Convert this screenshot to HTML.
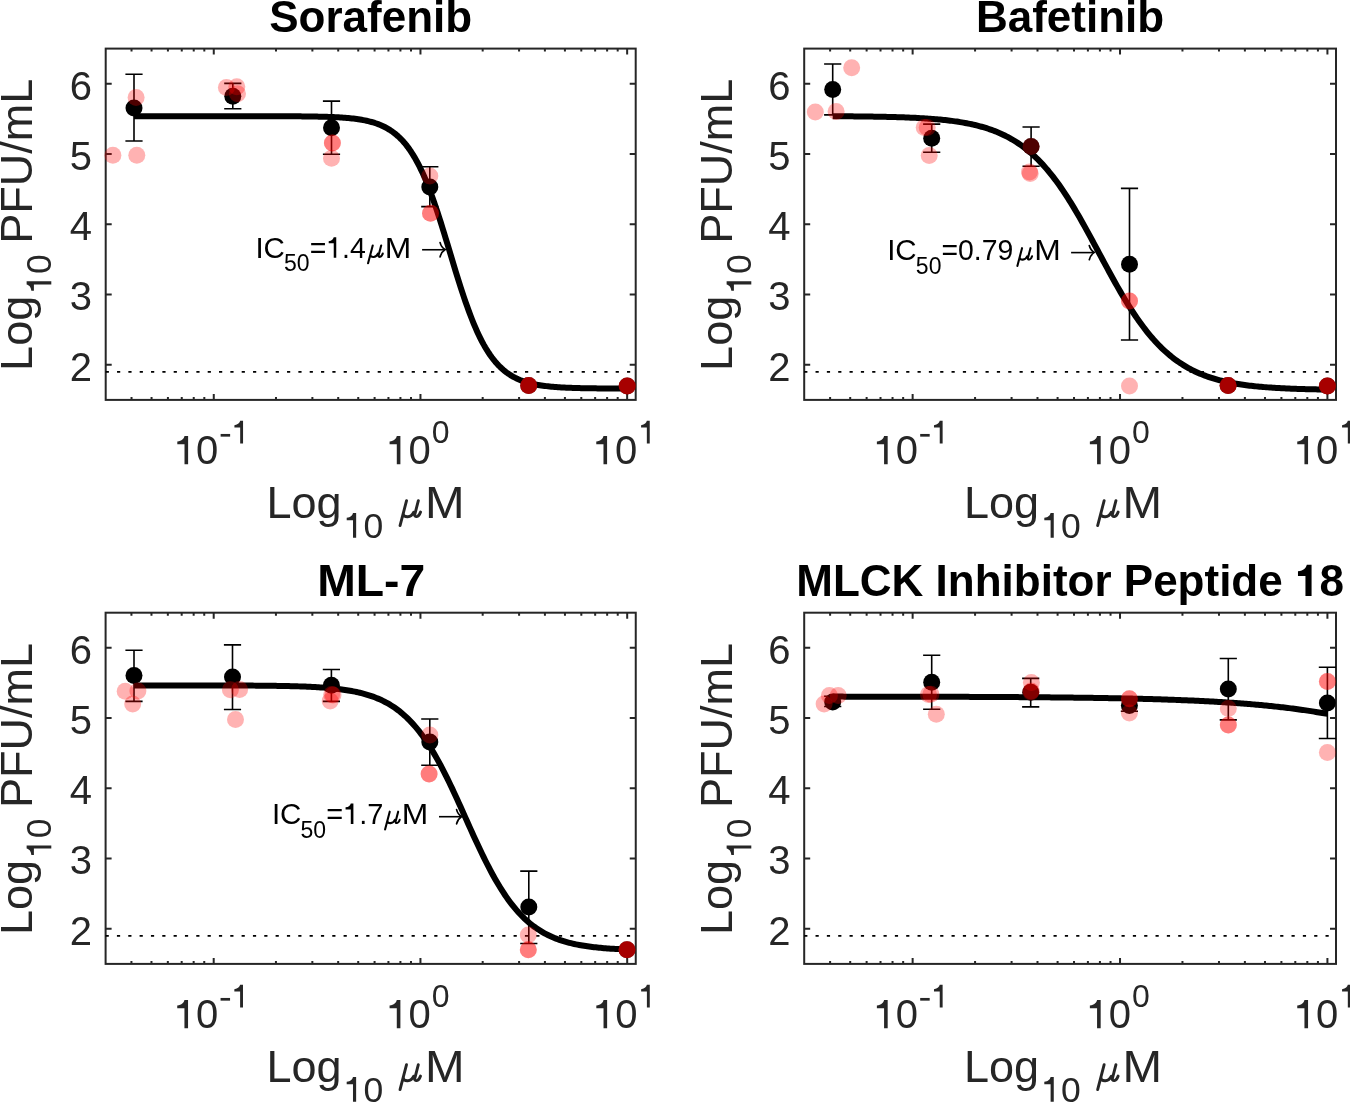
<!DOCTYPE html><html><head><meta charset="utf-8"><style>html,body{margin:0;padding:0;background:#fff;}svg{display:block}</style></head><body>
<svg style="will-change:transform" width="1350" height="1102" viewBox="0 0 1350 1102">
<rect x="0" y="0" width="1350" height="1102" fill="#fff"/>
<rect x="105.7" y="48.6" width="530" height="351.3" fill="none" stroke="#262626" stroke-width="2"/>
<path d="M 105.7 364.77 H 111.7 M 635.7 364.77 H 629.7 M 105.7 294.51 H 111.7 M 635.7 294.51 H 629.7 M 105.7 224.25 H 111.7 M 635.7 224.25 H 629.7 M 105.7 153.99 H 111.7 M 635.7 153.99 H 629.7 M 105.7 83.73 H 111.7 M 635.7 83.73 H 629.7 M 131.523 399.9 V 396.9 M 131.523 48.6 V 51.6 M 151.553 399.9 V 396.9 M 151.553 48.6 V 51.6 M 167.919 399.9 V 396.9 M 167.919 48.6 V 51.6 M 181.756 399.9 V 396.9 M 181.756 48.6 V 51.6 M 193.742 399.9 V 396.9 M 193.742 48.6 V 51.6 M 204.314 399.9 V 396.9 M 204.314 48.6 V 51.6 M 213.772 399.9 V 393.9 M 213.772 48.6 V 54.6 M 275.991 399.9 V 396.9 M 275.991 48.6 V 51.6 M 312.386 399.9 V 396.9 M 312.386 48.6 V 51.6 M 338.21 399.9 V 396.9 M 338.21 48.6 V 51.6 M 358.24 399.9 V 396.9 M 358.24 48.6 V 51.6 M 374.605 399.9 V 396.9 M 374.605 48.6 V 51.6 M 388.442 399.9 V 396.9 M 388.442 48.6 V 51.6 M 400.428 399.9 V 396.9 M 400.428 48.6 V 51.6 M 411.001 399.9 V 396.9 M 411.001 48.6 V 51.6 M 420.458 399.9 V 393.9 M 420.458 48.6 V 54.6 M 482.677 399.9 V 396.9 M 482.677 48.6 V 51.6 M 519.073 399.9 V 396.9 M 519.073 48.6 V 51.6 M 544.896 399.9 V 396.9 M 544.896 48.6 V 51.6 M 564.926 399.9 V 396.9 M 564.926 48.6 V 51.6 M 581.292 399.9 V 396.9 M 581.292 48.6 V 51.6 M 595.129 399.9 V 396.9 M 595.129 48.6 V 51.6 M 607.115 399.9 V 396.9 M 607.115 48.6 V 51.6 M 617.687 399.9 V 396.9 M 617.687 48.6 V 51.6 M 627.145 399.9 V 393.9 M 627.145 48.6 V 54.6" stroke="#262626" stroke-width="2" fill="none"/>
<line x1="105.7" y1="371.829" x2="635.7" y2="371.829" stroke="#000" stroke-width="1.8" stroke-dasharray="3.2 8.133"/>
<path d="M 134 116.181 L 135.649 116.181 L 137.299 116.181 L 138.948 116.181 L 140.598 116.181 L 142.247 116.181 L 143.897 116.181 L 145.546 116.181 L 147.196 116.181 L 148.845 116.181 L 150.495 116.181 L 152.144 116.181 L 153.794 116.181 L 155.443 116.181 L 157.093 116.181 L 158.742 116.181 L 160.392 116.181 L 162.041 116.181 L 163.691 116.181 L 165.34 116.181 L 166.99 116.181 L 168.639 116.181 L 170.289 116.181 L 171.938 116.181 L 173.588 116.181 L 175.237 116.181 L 176.887 116.181 L 178.536 116.181 L 180.186 116.182 L 181.835 116.182 L 183.485 116.182 L 185.134 116.182 L 186.784 116.182 L 188.433 116.182 L 190.083 116.182 L 191.732 116.182 L 193.382 116.182 L 195.031 116.182 L 196.681 116.182 L 198.33 116.182 L 199.98 116.182 L 201.629 116.182 L 203.279 116.183 L 204.928 116.183 L 206.578 116.183 L 208.227 116.183 L 209.877 116.183 L 211.526 116.183 L 213.176 116.184 L 214.825 116.184 L 216.475 116.184 L 218.124 116.184 L 219.774 116.185 L 221.423 116.185 L 223.073 116.185 L 224.722 116.186 L 226.372 116.186 L 228.021 116.186 L 229.671 116.187 L 231.32 116.187 L 232.97 116.188 L 234.619 116.188 L 236.269 116.189 L 237.918 116.19 L 239.568 116.19 L 241.217 116.191 L 242.867 116.192 L 244.516 116.193 L 246.166 116.194 L 247.815 116.195 L 249.465 116.196 L 251.114 116.198 L 252.764 116.199 L 254.413 116.201 L 256.063 116.202 L 257.712 116.204 L 259.362 116.206 L 261.011 116.208 L 262.661 116.21 L 264.31 116.213 L 265.96 116.215 L 267.609 116.218 L 269.259 116.221 L 270.908 116.225 L 272.558 116.228 L 274.207 116.232 L 275.857 116.237 L 277.506 116.241 L 279.156 116.246 L 280.805 116.252 L 282.455 116.258 L 284.104 116.264 L 285.754 116.271 L 287.403 116.279 L 289.053 116.287 L 290.702 116.296 L 292.352 116.305 L 294.001 116.316 L 295.651 116.327 L 297.3 116.339 L 298.95 116.353 L 300.599 116.367 L 302.249 116.382 L 303.898 116.399 L 305.548 116.418 L 307.197 116.437 L 308.847 116.459 L 310.496 116.482 L 312.146 116.507 L 313.795 116.535 L 315.445 116.564 L 317.094 116.597 L 318.744 116.631 L 320.393 116.669 L 322.043 116.71 L 323.692 116.754 L 325.342 116.802 L 326.991 116.854 L 328.641 116.91 L 330.29 116.971 L 331.94 117.037 L 333.589 117.109 L 335.239 117.186 L 336.888 117.27 L 338.538 117.361 L 340.187 117.46 L 341.837 117.566 L 343.486 117.682 L 345.136 117.807 L 346.785 117.942 L 348.435 118.089 L 350.084 118.248 L 351.734 118.42 L 353.383 118.606 L 355.033 118.807 L 356.682 119.025 L 358.332 119.261 L 359.981 119.516 L 361.631 119.792 L 363.28 120.09 L 364.93 120.413 L 366.579 120.762 L 368.229 121.139 L 369.878 121.546 L 371.528 121.986 L 373.177 122.462 L 374.827 122.975 L 376.476 123.529 L 378.126 124.128 L 379.775 124.773 L 381.425 125.469 L 383.074 126.219 L 384.724 127.027 L 386.373 127.897 L 388.023 128.834 L 389.672 129.841 L 391.322 130.924 L 392.971 132.088 L 394.621 133.338 L 396.27 134.679 L 397.92 136.116 L 399.569 137.656 L 401.219 139.304 L 402.868 141.065 L 404.518 142.946 L 406.167 144.953 L 407.817 147.092 L 409.466 149.368 L 411.116 151.787 L 412.765 154.354 L 414.415 157.074 L 416.064 159.951 L 417.714 162.99 L 419.363 166.194 L 421.013 169.566 L 422.662 173.106 L 424.312 176.817 L 425.961 180.696 L 427.611 184.744 L 429.26 188.956 L 430.91 193.33 L 432.559 197.859 L 434.209 202.536 L 435.858 207.353 L 437.508 212.299 L 439.157 217.365 L 440.807 222.536 L 442.456 227.799 L 444.106 233.139 L 445.755 238.54 L 447.405 243.986 L 449.054 249.459 L 450.704 254.941 L 452.353 260.414 L 454.003 265.862 L 455.652 271.267 L 457.302 276.612 L 458.951 281.88 L 460.601 287.058 L 462.25 292.131 L 463.9 297.086 L 465.549 301.911 L 467.199 306.598 L 468.848 311.137 L 470.498 315.521 L 472.147 319.744 L 473.797 323.803 L 475.446 327.694 L 477.096 331.415 L 478.745 334.967 L 480.395 338.349 L 482.044 341.564 L 483.694 344.614 L 485.343 347.503 L 486.993 350.233 L 488.642 352.81 L 490.292 355.238 L 491.941 357.523 L 493.591 359.671 L 495.24 361.686 L 496.89 363.576 L 498.539 365.345 L 500.189 367 L 501.838 368.547 L 503.488 369.991 L 505.137 371.338 L 506.787 372.593 L 508.436 373.763 L 510.086 374.851 L 511.735 375.863 L 513.385 376.805 L 515.034 377.679 L 516.684 378.491 L 518.333 379.245 L 519.983 379.944 L 521.632 380.593 L 523.282 381.194 L 524.931 381.751 L 526.581 382.267 L 528.23 382.745 L 529.88 383.187 L 531.529 383.597 L 533.179 383.976 L 534.828 384.326 L 536.478 384.651 L 538.127 384.951 L 539.777 385.228 L 541.426 385.484 L 543.076 385.721 L 544.725 385.94 L 546.375 386.143 L 548.024 386.33 L 549.674 386.503 L 551.323 386.662 L 552.973 386.81 L 554.622 386.946 L 556.272 387.072 L 557.921 387.188 L 559.571 387.295 L 561.22 387.394 L 562.87 387.485 L 564.519 387.57 L 566.169 387.648 L 567.818 387.72 L 569.468 387.786 L 571.117 387.847 L 572.767 387.904 L 574.416 387.956 L 576.066 388.004 L 577.715 388.049 L 579.365 388.09 L 581.014 388.128 L 582.664 388.163 L 584.313 388.195 L 585.963 388.225 L 587.612 388.252 L 589.262 388.278 L 590.911 388.301 L 592.561 388.323 L 594.21 388.342 L 595.86 388.361 L 597.509 388.378 L 599.159 388.393 L 600.808 388.408 L 602.458 388.421 L 604.107 388.434 L 605.757 388.445 L 607.406 388.455 L 609.056 388.465 L 610.705 388.474 L 612.355 388.482 L 614.004 388.49 L 615.654 388.497 L 617.303 388.503 L 618.953 388.509 L 620.602 388.515 L 622.252 388.52 L 623.901 388.525 L 625.551 388.529 L 627.2 388.533" fill="none" stroke="#000" stroke-width="6" stroke-linejoin="round"/>
<path d="M 134 74.2 L 134 141 M 125.4 74.2 L 142.6 74.2 M 125.4 141 L 142.6 141" stroke="#000" stroke-width="1.6" fill="none"/>
<path d="M 232.8 83.4 L 232.8 108.8 M 224.2 83.4 L 241.4 83.4 M 224.2 108.8 L 241.4 108.8" stroke="#000" stroke-width="1.6" fill="none"/>
<path d="M 331.5 101.1 L 331.5 154.2 M 322.9 101.1 L 340.1 101.1 M 322.9 154.2 L 340.1 154.2" stroke="#000" stroke-width="1.6" fill="none"/>
<path d="M 429.8 166.7 L 429.8 206.6 M 421.2 166.7 L 438.4 166.7 M 421.2 206.6 L 438.4 206.6" stroke="#000" stroke-width="1.6" fill="none"/>
<circle cx="134" cy="107.9" r="8.5" fill="#000"/>
<circle cx="232.8" cy="96.3" r="8.5" fill="#000"/>
<circle cx="331.5" cy="127.7" r="8.5" fill="#000"/>
<circle cx="429.8" cy="186.9" r="8.5" fill="#000"/>
<circle cx="528.7" cy="385.5" r="8.5" fill="#000"/>
<circle cx="627.2" cy="385.9" r="8.5" fill="#000"/>
<circle cx="136.1" cy="97.4" r="8.5" fill="#f00" fill-opacity="0.3"/>
<circle cx="112.9" cy="155.3" r="8.5" fill="#f00" fill-opacity="0.3"/>
<circle cx="136.8" cy="155.3" r="8.5" fill="#f00" fill-opacity="0.3"/>
<circle cx="226.4" cy="87.4" r="8.5" fill="#f00" fill-opacity="0.3"/>
<circle cx="236.8" cy="86.8" r="8.5" fill="#f00" fill-opacity="0.3"/>
<circle cx="237.5" cy="93.8" r="8.5" fill="#f00" fill-opacity="0.3"/>
<circle cx="332.4" cy="142.9" r="8.5" fill="#f00" fill-opacity="0.3"/>
<circle cx="332.4" cy="142.9" r="8.5" fill="#f00" fill-opacity="0.3"/>
<circle cx="331.5" cy="158.3" r="8.5" fill="#f00" fill-opacity="0.3"/>
<circle cx="429.8" cy="176" r="8.5" fill="#f00" fill-opacity="0.3"/>
<circle cx="430.5" cy="213.2" r="8.5" fill="#f00" fill-opacity="0.3"/>
<circle cx="430.5" cy="213.2" r="8.5" fill="#f00" fill-opacity="0.3"/>
<circle cx="528.7" cy="385.5" r="8.5" fill="#f00" fill-opacity="0.3"/>
<circle cx="528.7" cy="385.5" r="8.5" fill="#f00" fill-opacity="0.3"/>
<circle cx="528.7" cy="385.5" r="8.5" fill="#f00" fill-opacity="0.3"/>
<circle cx="627.2" cy="385.9" r="8.5" fill="#f00" fill-opacity="0.3"/>
<circle cx="627.2" cy="385.9" r="8.5" fill="#f00" fill-opacity="0.3"/>
<circle cx="627.2" cy="385.9" r="8.5" fill="#f00" fill-opacity="0.3"/>
<text x="92" y="380.57" font-family="'Liberation Sans', sans-serif" font-size="40" fill="#262626" text-anchor="end">2</text>
<text x="92" y="310.31" font-family="'Liberation Sans', sans-serif" font-size="40" fill="#262626" text-anchor="end">3</text>
<text x="92" y="240.05" font-family="'Liberation Sans', sans-serif" font-size="40" fill="#262626" text-anchor="end">4</text>
<text x="92" y="169.79" font-family="'Liberation Sans', sans-serif" font-size="40" fill="#262626" text-anchor="end">5</text>
<text x="92" y="99.53" font-family="'Liberation Sans', sans-serif" font-size="40" fill="#262626" text-anchor="end">6</text>
<text x="173.872" y="464.2" font-family="'Liberation Sans', sans-serif" font-size="40" fill="#262626"> 0</text><path transform="translate(173.872 464.2) scale(0.04 -0.04)" d="M356 705L266 705C250 640 200 580 86 570L86 497L266 497L266 0L356 0Z" fill="#262626"/>
<rect x="220.624" y="433.95" width="9.5" height="2.7" fill="#262626"/>
<path transform="translate(231.664 443.4) scale(0.032 -0.032)" d="M356 705L266 705C250 640 200 580 86 570L86 497L266 497L266 0L356 0Z" fill="#262626"/>
<text x="386.158" y="464.2" font-family="'Liberation Sans', sans-serif" font-size="40" fill="#262626"> 0</text><path transform="translate(386.158 464.2) scale(0.04 -0.04)" d="M356 705L266 705C250 640 200 580 86 570L86 497L266 497L266 0L356 0Z" fill="#262626"/>
<text x="431.65" y="443.4" font-family="'Liberation Sans', sans-serif" font-size="32" fill="#262626">0</text>
<text x="592.845" y="464.2" font-family="'Liberation Sans', sans-serif" font-size="40" fill="#262626"> 0</text><path transform="translate(592.845 464.2) scale(0.04 -0.04)" d="M356 705L266 705C250 640 200 580 86 570L86 497L266 497L266 0L356 0Z" fill="#262626"/>
<text x="638.337" y="443.4" font-family="'Liberation Sans', sans-serif" font-size="32" fill="#262626"> </text><path transform="translate(638.337 443.4) scale(0.032 -0.032)" d="M356 705L266 705C250 640 200 580 86 570L86 497L266 497L266 0L356 0Z" fill="#262626"/>
<text x="266.4" y="518.2" font-family="'Liberation Sans', sans-serif" font-size="45" fill="#262626">Log</text>
<text x="343.7" y="537.7" font-family="'Liberation Sans', sans-serif" font-size="35.5" fill="#262626"> 0</text><path transform="translate(343.7 537.7) scale(0.035 -0.035)" d="M356 705L266 705C250 640 200 580 86 570L86 497L266 497L266 0L356 0Z" fill="#262626"/>
<path d="M 400.05 525.6 L 406.55 500.7 M 403.45 512.8 C 402.85 516 405.05 516.8 407.75 516.7 C 410.35 516.6 412.55 514.8 413.75 512.2 M 418.35 500.7 L 414.95 513.8 C 414.35 516.2 415.35 516.7 416.75 516.6 C 418.35 516.4 419.75 514.3 420.55 512" fill="none" stroke="#262626" stroke-width="2.9" stroke-linecap="round" stroke-linejoin="round"/>
<text x="425" y="518.2" font-family="'Liberation Sans', sans-serif" font-size="45" fill="#262626" textLength="39.6" lengthAdjust="spacingAndGlyphs">M</text>
<g transform="translate(31.8 370.9) rotate(-90)"><text x="0" y="0" font-family="'Liberation Sans', sans-serif" font-size="45" fill="#262626">Log<tspan font-size="35.5" dx="2" dy="19.5"> 0</tspan><tspan dx="-2" dy="-19.5"> PFU/mL</tspan></text><path transform="translate(77.094 19.5) scale(0.035 -0.035)" d="M356 705L266 705C250 640 200 580 86 570L86 497L266 497L266 0L356 0Z" fill="#262626"/></g>
<text x="370.7" y="31.8" font-family="'Liberation Sans', sans-serif" font-weight="bold" font-size="44" fill="#000" text-anchor="middle">Sorafenib</text>
<rect x="804.2" y="48.6" width="531.8" height="351.3" fill="none" stroke="#262626" stroke-width="2"/>
<path d="M 804.2 364.77 H 810.2 M 1336 364.77 H 1330 M 804.2 294.51 H 810.2 M 1336 294.51 H 1330 M 804.2 224.25 H 810.2 M 1336 224.25 H 1330 M 804.2 153.99 H 810.2 M 1336 153.99 H 1330 M 804.2 83.73 H 810.2 M 1336 83.73 H 1330 M 830.111 399.9 V 396.9 M 830.111 48.6 V 51.6 M 850.209 399.9 V 396.9 M 850.209 48.6 V 51.6 M 866.63 399.9 V 396.9 M 866.63 48.6 V 51.6 M 880.514 399.9 V 396.9 M 880.514 48.6 V 51.6 M 892.541 399.9 V 396.9 M 892.541 48.6 V 51.6 M 903.149 399.9 V 396.9 M 903.149 48.6 V 51.6 M 912.639 399.9 V 393.9 M 912.639 48.6 V 54.6 M 975.069 399.9 V 396.9 M 975.069 48.6 V 51.6 M 1011.588 399.9 V 396.9 M 1011.588 48.6 V 51.6 M 1037.499 399.9 V 396.9 M 1037.499 48.6 V 51.6 M 1057.597 399.9 V 396.9 M 1057.597 48.6 V 51.6 M 1074.018 399.9 V 396.9 M 1074.018 48.6 V 51.6 M 1087.902 399.9 V 396.9 M 1087.902 48.6 V 51.6 M 1099.929 399.9 V 396.9 M 1099.929 48.6 V 51.6 M 1110.538 399.9 V 396.9 M 1110.538 48.6 V 51.6 M 1120.027 399.9 V 393.9 M 1120.027 48.6 V 54.6 M 1182.457 399.9 V 396.9 M 1182.457 48.6 V 51.6 M 1218.977 399.9 V 396.9 M 1218.977 48.6 V 51.6 M 1244.888 399.9 V 396.9 M 1244.888 48.6 V 51.6 M 1264.986 399.9 V 396.9 M 1264.986 48.6 V 51.6 M 1281.407 399.9 V 396.9 M 1281.407 48.6 V 51.6 M 1295.291 399.9 V 396.9 M 1295.291 48.6 V 51.6 M 1307.318 399.9 V 396.9 M 1307.318 48.6 V 51.6 M 1317.926 399.9 V 396.9 M 1317.926 48.6 V 51.6 M 1327.416 399.9 V 393.9 M 1327.416 48.6 V 54.6" stroke="#262626" stroke-width="2" fill="none"/>
<line x1="804.2" y1="371.829" x2="1336" y2="371.829" stroke="#000" stroke-width="1.8" stroke-dasharray="3.2 8.133"/>
<path d="M 832.7 116.233 L 834.355 116.242 L 836.009 116.251 L 837.664 116.261 L 839.318 116.271 L 840.973 116.282 L 842.627 116.293 L 844.282 116.304 L 845.936 116.316 L 847.591 116.329 L 849.245 116.342 L 850.9 116.356 L 852.554 116.371 L 854.209 116.386 L 855.863 116.402 L 857.518 116.418 L 859.172 116.436 L 860.827 116.454 L 862.481 116.473 L 864.136 116.493 L 865.79 116.514 L 867.445 116.536 L 869.099 116.558 L 870.754 116.582 L 872.408 116.607 L 874.063 116.633 L 875.717 116.66 L 877.372 116.689 L 879.026 116.719 L 880.681 116.75 L 882.335 116.782 L 883.99 116.817 L 885.644 116.852 L 887.299 116.89 L 888.954 116.929 L 890.608 116.969 L 892.263 117.012 L 893.917 117.057 L 895.572 117.103 L 897.226 117.152 L 898.881 117.203 L 900.535 117.257 L 902.19 117.312 L 903.844 117.371 L 905.499 117.432 L 907.153 117.496 L 908.808 117.563 L 910.462 117.632 L 912.117 117.705 L 913.771 117.782 L 915.426 117.861 L 917.08 117.945 L 918.735 118.032 L 920.389 118.123 L 922.044 118.218 L 923.698 118.318 L 925.353 118.422 L 927.007 118.531 L 928.662 118.645 L 930.316 118.764 L 931.971 118.888 L 933.625 119.018 L 935.28 119.154 L 936.934 119.296 L 938.589 119.444 L 940.243 119.599 L 941.898 119.761 L 943.553 119.93 L 945.207 120.107 L 946.862 120.292 L 948.516 120.485 L 950.171 120.687 L 951.825 120.897 L 953.48 121.117 L 955.134 121.347 L 956.789 121.587 L 958.443 121.837 L 960.098 122.099 L 961.752 122.372 L 963.407 122.657 L 965.061 122.954 L 966.716 123.265 L 968.37 123.589 L 970.025 123.928 L 971.679 124.281 L 973.334 124.649 L 974.988 125.033 L 976.643 125.434 L 978.297 125.852 L 979.952 126.287 L 981.606 126.742 L 983.261 127.215 L 984.915 127.709 L 986.57 128.224 L 988.224 128.76 L 989.879 129.318 L 991.533 129.9 L 993.188 130.506 L 994.842 131.136 L 996.497 131.793 L 998.152 132.476 L 999.806 133.187 L 1001.461 133.927 L 1003.115 134.696 L 1004.77 135.496 L 1006.424 136.327 L 1008.079 137.191 L 1009.733 138.088 L 1011.388 139.02 L 1013.042 139.988 L 1014.697 140.993 L 1016.351 142.035 L 1018.006 143.116 L 1019.66 144.237 L 1021.315 145.398 L 1022.969 146.602 L 1024.624 147.849 L 1026.278 149.139 L 1027.933 150.475 L 1029.587 151.856 L 1031.242 153.284 L 1032.896 154.76 L 1034.551 156.284 L 1036.205 157.858 L 1037.86 159.482 L 1039.514 161.156 L 1041.169 162.882 L 1042.823 164.661 L 1044.478 166.491 L 1046.132 168.375 L 1047.787 170.311 L 1049.441 172.302 L 1051.096 174.346 L 1052.751 176.443 L 1054.405 178.594 L 1056.06 180.799 L 1057.714 183.056 L 1059.369 185.367 L 1061.023 187.729 L 1062.678 190.142 L 1064.332 192.607 L 1065.987 195.12 L 1067.641 197.682 L 1069.296 200.292 L 1070.95 202.947 L 1072.605 205.646 L 1074.259 208.388 L 1075.914 211.17 L 1077.568 213.991 L 1079.223 216.848 L 1080.877 219.74 L 1082.532 222.663 L 1084.186 225.616 L 1085.841 228.596 L 1087.495 231.6 L 1089.15 234.625 L 1090.804 237.669 L 1092.459 240.728 L 1094.113 243.8 L 1095.768 246.881 L 1097.422 249.968 L 1099.077 253.058 L 1100.731 256.149 L 1102.386 259.236 L 1104.04 262.317 L 1105.695 265.389 L 1107.349 268.448 L 1109.004 271.492 L 1110.659 274.517 L 1112.313 277.521 L 1113.968 280.501 L 1115.622 283.454 L 1117.277 286.378 L 1118.931 289.27 L 1120.586 292.128 L 1122.24 294.949 L 1123.895 297.732 L 1125.549 300.474 L 1127.204 303.173 L 1128.858 305.829 L 1130.513 308.438 L 1132.167 311.001 L 1133.822 313.515 L 1135.476 315.979 L 1137.131 318.394 L 1138.785 320.756 L 1140.44 323.067 L 1142.094 325.325 L 1143.749 327.53 L 1145.403 329.681 L 1147.058 331.779 L 1148.712 333.824 L 1150.367 335.815 L 1152.021 337.752 L 1153.676 339.636 L 1155.33 341.467 L 1156.985 343.245 L 1158.639 344.972 L 1160.294 346.647 L 1161.948 348.271 L 1163.603 349.845 L 1165.258 351.37 L 1166.912 352.846 L 1168.567 354.275 L 1170.221 355.656 L 1171.876 356.992 L 1173.53 358.283 L 1175.185 359.53 L 1176.839 360.734 L 1178.494 361.896 L 1180.148 363.017 L 1181.803 364.099 L 1183.457 365.141 L 1185.112 366.146 L 1186.766 367.114 L 1188.421 368.047 L 1190.075 368.944 L 1191.73 369.808 L 1193.384 370.64 L 1195.039 371.44 L 1196.693 372.209 L 1198.348 372.949 L 1200.002 373.661 L 1201.657 374.344 L 1203.311 375.001 L 1204.966 375.632 L 1206.62 376.238 L 1208.275 376.82 L 1209.929 377.378 L 1211.584 377.915 L 1213.238 378.429 L 1214.893 378.923 L 1216.547 379.397 L 1218.202 379.851 L 1219.857 380.287 L 1221.511 380.705 L 1223.166 381.106 L 1224.82 381.491 L 1226.475 381.859 L 1228.129 382.212 L 1229.784 382.551 L 1231.438 382.875 L 1233.093 383.186 L 1234.747 383.483 L 1236.402 383.769 L 1238.056 384.042 L 1239.711 384.303 L 1241.365 384.554 L 1243.02 384.794 L 1244.674 385.024 L 1246.329 385.244 L 1247.983 385.454 L 1249.638 385.656 L 1251.292 385.849 L 1252.947 386.034 L 1254.601 386.211 L 1256.256 386.38 L 1257.91 386.542 L 1259.565 386.697 L 1261.219 386.846 L 1262.874 386.987 L 1264.528 387.123 L 1266.183 387.253 L 1267.837 387.378 L 1269.492 387.497 L 1271.146 387.611 L 1272.801 387.72 L 1274.456 387.824 L 1276.11 387.923 L 1277.765 388.019 L 1279.419 388.11 L 1281.074 388.197 L 1282.728 388.281 L 1284.383 388.36 L 1286.037 388.437 L 1287.692 388.51 L 1289.346 388.58 L 1291.001 388.646 L 1292.655 388.71 L 1294.31 388.771 L 1295.964 388.83 L 1297.619 388.886 L 1299.273 388.939 L 1300.928 388.99 L 1302.582 389.039 L 1304.237 389.086 L 1305.891 389.13 L 1307.546 389.173 L 1309.2 389.214 L 1310.855 389.253 L 1312.509 389.29 L 1314.164 389.326 L 1315.818 389.36 L 1317.473 389.393 L 1319.127 389.424 L 1320.782 389.454 L 1322.436 389.482 L 1324.091 389.509 L 1325.745 389.535 L 1327.4 389.56" fill="none" stroke="#000" stroke-width="6" stroke-linejoin="round"/>
<path d="M 832.7 64 L 832.7 114.9 M 824.1 64 L 841.3 64 M 824.1 114.9 L 841.3 114.9" stroke="#000" stroke-width="1.6" fill="none"/>
<path d="M 931.7 124.1 L 931.7 152.3 M 923.1 124.1 L 940.3 124.1 M 923.1 152.3 L 940.3 152.3" stroke="#000" stroke-width="1.6" fill="none"/>
<path d="M 1031.1 127 L 1031.1 166.3 M 1022.5 127 L 1039.7 127 M 1022.5 166.3 L 1039.7 166.3" stroke="#000" stroke-width="1.6" fill="none"/>
<path d="M 1129.5 188.4 L 1129.5 340 M 1120.9 188.4 L 1138.1 188.4 M 1120.9 340 L 1138.1 340" stroke="#000" stroke-width="1.6" fill="none"/>
<circle cx="832.7" cy="89.5" r="8.5" fill="#000"/>
<circle cx="931.7" cy="138.2" r="8.5" fill="#000"/>
<circle cx="1031.1" cy="146.6" r="8.5" fill="#000"/>
<circle cx="1129.5" cy="264.2" r="8.5" fill="#000"/>
<circle cx="1228.1" cy="385.5" r="8.5" fill="#000"/>
<circle cx="1327.4" cy="386.1" r="8.5" fill="#000"/>
<circle cx="851.7" cy="67.7" r="8.5" fill="#f00" fill-opacity="0.3"/>
<circle cx="815.3" cy="112" r="8.5" fill="#f00" fill-opacity="0.3"/>
<circle cx="836.1" cy="111.5" r="8.5" fill="#f00" fill-opacity="0.3"/>
<circle cx="924.2" cy="127.4" r="8.5" fill="#f00" fill-opacity="0.3"/>
<circle cx="927.2" cy="127.5" r="8.5" fill="#f00" fill-opacity="0.3"/>
<circle cx="929.2" cy="155.4" r="8.5" fill="#f00" fill-opacity="0.3"/>
<circle cx="1031.1" cy="146.6" r="8.5" fill="#f00" fill-opacity="0.3"/>
<circle cx="1029.5" cy="172" r="8.5" fill="#f00" fill-opacity="0.3"/>
<circle cx="1030.2" cy="173.5" r="8.5" fill="#f00" fill-opacity="0.3"/>
<circle cx="1129.5" cy="301.1" r="8.5" fill="#f00" fill-opacity="0.3"/>
<circle cx="1129.5" cy="301.1" r="8.5" fill="#f00" fill-opacity="0.3"/>
<circle cx="1129.5" cy="385.9" r="8.5" fill="#f00" fill-opacity="0.3"/>
<circle cx="1228.1" cy="385.5" r="8.5" fill="#f00" fill-opacity="0.3"/>
<circle cx="1228.1" cy="385.5" r="8.5" fill="#f00" fill-opacity="0.3"/>
<circle cx="1228.1" cy="385.5" r="8.5" fill="#f00" fill-opacity="0.3"/>
<circle cx="1327.4" cy="386.1" r="8.5" fill="#f00" fill-opacity="0.3"/>
<circle cx="1327.4" cy="386.1" r="8.5" fill="#f00" fill-opacity="0.3"/>
<circle cx="1327.4" cy="386.1" r="8.5" fill="#f00" fill-opacity="0.3"/>
<text x="790.5" y="380.57" font-family="'Liberation Sans', sans-serif" font-size="40" fill="#262626" text-anchor="end">2</text>
<text x="790.5" y="310.31" font-family="'Liberation Sans', sans-serif" font-size="40" fill="#262626" text-anchor="end">3</text>
<text x="790.5" y="240.05" font-family="'Liberation Sans', sans-serif" font-size="40" fill="#262626" text-anchor="end">4</text>
<text x="790.5" y="169.79" font-family="'Liberation Sans', sans-serif" font-size="40" fill="#262626" text-anchor="end">5</text>
<text x="790.5" y="99.53" font-family="'Liberation Sans', sans-serif" font-size="40" fill="#262626" text-anchor="end">6</text>
<text x="873.439" y="464.2" font-family="'Liberation Sans', sans-serif" font-size="40" fill="#262626"> 0</text><path transform="translate(873.439 464.2) scale(0.04 -0.04)" d="M356 705L266 705C250 640 200 580 86 570L86 497L266 497L266 0L356 0Z" fill="#262626"/>
<rect x="920.191" y="433.95" width="9.5" height="2.7" fill="#262626"/>
<path transform="translate(931.231 443.4) scale(0.032 -0.032)" d="M356 705L266 705C250 640 200 580 86 570L86 497L266 497L266 0L356 0Z" fill="#262626"/>
<text x="1086.427" y="464.2" font-family="'Liberation Sans', sans-serif" font-size="40" fill="#262626"> 0</text><path transform="translate(1086.427 464.2) scale(0.04 -0.04)" d="M356 705L266 705C250 640 200 580 86 570L86 497L266 497L266 0L356 0Z" fill="#262626"/>
<text x="1131.919" y="443.4" font-family="'Liberation Sans', sans-serif" font-size="32" fill="#262626">0</text>
<text x="1293.816" y="464.2" font-family="'Liberation Sans', sans-serif" font-size="40" fill="#262626"> 0</text><path transform="translate(1293.816 464.2) scale(0.04 -0.04)" d="M356 705L266 705C250 640 200 580 86 570L86 497L266 497L266 0L356 0Z" fill="#262626"/>
<text x="1339.308" y="443.4" font-family="'Liberation Sans', sans-serif" font-size="32" fill="#262626"> </text><path transform="translate(1339.308 443.4) scale(0.032 -0.032)" d="M356 705L266 705C250 640 200 580 86 570L86 497L266 497L266 0L356 0Z" fill="#262626"/>
<text x="964" y="518.2" font-family="'Liberation Sans', sans-serif" font-size="45" fill="#262626">Log</text>
<text x="1041.3" y="537.7" font-family="'Liberation Sans', sans-serif" font-size="35.5" fill="#262626"> 0</text><path transform="translate(1041.3 537.7) scale(0.035 -0.035)" d="M356 705L266 705C250 640 200 580 86 570L86 497L266 497L266 0L356 0Z" fill="#262626"/>
<path d="M 1097.65 525.6 L 1104.15 500.7 M 1101.05 512.8 C 1100.45 516 1102.65 516.8 1105.35 516.7 C 1107.95 516.6 1110.15 514.8 1111.35 512.2 M 1115.95 500.7 L 1112.55 513.8 C 1111.95 516.2 1112.95 516.7 1114.35 516.6 C 1115.95 516.4 1117.35 514.3 1118.15 512" fill="none" stroke="#262626" stroke-width="2.9" stroke-linecap="round" stroke-linejoin="round"/>
<text x="1122.6" y="518.2" font-family="'Liberation Sans', sans-serif" font-size="45" fill="#262626" textLength="39.6" lengthAdjust="spacingAndGlyphs">M</text>
<g transform="translate(731.8 370.9) rotate(-90)"><text x="0" y="0" font-family="'Liberation Sans', sans-serif" font-size="45" fill="#262626">Log<tspan font-size="35.5" dx="2" dy="19.5"> 0</tspan><tspan dx="-2" dy="-19.5"> PFU/mL</tspan></text><path transform="translate(77.094 19.5) scale(0.035 -0.035)" d="M356 705L266 705C250 640 200 580 86 570L86 497L266 497L266 0L356 0Z" fill="#262626"/></g>
<text x="1070.1" y="31.8" font-family="'Liberation Sans', sans-serif" font-weight="bold" font-size="44" fill="#000" text-anchor="middle">Bafetinib</text>
<rect x="105.6" y="612.7" width="530.15" height="351.2" fill="none" stroke="#262626" stroke-width="2"/>
<path d="M 105.6 928.78 H 111.6 M 635.75 928.78 H 629.75 M 105.6 858.54 H 111.6 M 635.75 858.54 H 629.75 M 105.6 788.3 H 111.6 M 635.75 788.3 H 629.75 M 105.6 718.06 H 111.6 M 635.75 718.06 H 629.75 M 105.6 647.82 H 111.6 M 635.75 647.82 H 629.75 M 131.43 963.9 V 960.9 M 131.43 612.7 V 615.7 M 151.466 963.9 V 960.9 M 151.466 612.7 V 615.7 M 167.836 963.9 V 960.9 M 167.836 612.7 V 615.7 M 181.677 963.9 V 960.9 M 181.677 612.7 V 615.7 M 193.667 963.9 V 960.9 M 193.667 612.7 V 615.7 M 204.242 963.9 V 960.9 M 204.242 612.7 V 615.7 M 213.703 963.9 V 957.9 M 213.703 612.7 V 618.7 M 275.939 963.9 V 960.9 M 275.939 612.7 V 615.7 M 312.345 963.9 V 960.9 M 312.345 612.7 V 615.7 M 338.175 963.9 V 960.9 M 338.175 612.7 V 615.7 M 358.211 963.9 V 960.9 M 358.211 612.7 V 615.7 M 374.581 963.9 V 960.9 M 374.581 612.7 V 615.7 M 388.422 963.9 V 960.9 M 388.422 612.7 V 615.7 M 400.412 963.9 V 960.9 M 400.412 612.7 V 615.7 M 410.987 963.9 V 960.9 M 410.987 612.7 V 615.7 M 420.447 963.9 V 957.9 M 420.447 612.7 V 618.7 M 482.684 963.9 V 960.9 M 482.684 612.7 V 615.7 M 519.09 963.9 V 960.9 M 519.09 612.7 V 615.7 M 544.92 963.9 V 960.9 M 544.92 612.7 V 615.7 M 564.956 963.9 V 960.9 M 564.956 612.7 V 615.7 M 581.326 963.9 V 960.9 M 581.326 612.7 V 615.7 M 595.167 963.9 V 960.9 M 595.167 612.7 V 615.7 M 607.157 963.9 V 960.9 M 607.157 612.7 V 615.7 M 617.732 963.9 V 960.9 M 617.732 612.7 V 615.7 M 627.192 963.9 V 957.9 M 627.192 612.7 V 618.7" stroke="#262626" stroke-width="2" fill="none"/>
<line x1="105.6" y1="935.837" x2="635.75" y2="935.837" stroke="#000" stroke-width="1.8" stroke-dasharray="3.2 8.133"/>
<path d="M 134 685.412 L 135.649 685.412 L 137.298 685.412 L 138.946 685.413 L 140.595 685.413 L 142.244 685.413 L 143.893 685.413 L 145.542 685.414 L 147.191 685.414 L 148.839 685.414 L 150.488 685.415 L 152.137 685.415 L 153.786 685.416 L 155.435 685.416 L 157.084 685.416 L 158.732 685.417 L 160.381 685.417 L 162.03 685.418 L 163.679 685.418 L 165.328 685.419 L 166.977 685.42 L 168.625 685.42 L 170.274 685.421 L 171.923 685.422 L 173.572 685.423 L 175.221 685.423 L 176.87 685.424 L 178.518 685.425 L 180.167 685.426 L 181.816 685.427 L 183.465 685.428 L 185.114 685.429 L 186.763 685.43 L 188.411 685.432 L 190.06 685.433 L 191.709 685.435 L 193.358 685.436 L 195.007 685.438 L 196.656 685.439 L 198.304 685.441 L 199.953 685.443 L 201.602 685.445 L 203.251 685.447 L 204.9 685.449 L 206.548 685.452 L 208.197 685.454 L 209.846 685.457 L 211.495 685.459 L 213.144 685.462 L 214.793 685.465 L 216.441 685.469 L 218.09 685.472 L 219.739 685.476 L 221.388 685.48 L 223.037 685.484 L 224.686 685.488 L 226.334 685.493 L 227.983 685.497 L 229.632 685.502 L 231.281 685.508 L 232.93 685.513 L 234.579 685.519 L 236.227 685.526 L 237.876 685.533 L 239.525 685.54 L 241.174 685.547 L 242.823 685.555 L 244.472 685.563 L 246.12 685.572 L 247.769 685.582 L 249.418 685.591 L 251.067 685.602 L 252.716 685.613 L 254.365 685.625 L 256.013 685.637 L 257.662 685.65 L 259.311 685.664 L 260.96 685.678 L 262.609 685.694 L 264.258 685.71 L 265.906 685.727 L 267.555 685.745 L 269.204 685.765 L 270.853 685.785 L 272.502 685.806 L 274.151 685.829 L 275.799 685.853 L 277.448 685.878 L 279.097 685.905 L 280.746 685.934 L 282.395 685.963 L 284.043 685.995 L 285.692 686.028 L 287.341 686.064 L 288.99 686.101 L 290.639 686.141 L 292.288 686.182 L 293.936 686.226 L 295.585 686.273 L 297.234 686.322 L 298.883 686.374 L 300.532 686.429 L 302.181 686.487 L 303.829 686.548 L 305.478 686.613 L 307.127 686.681 L 308.776 686.754 L 310.425 686.83 L 312.074 686.911 L 313.722 686.996 L 315.371 687.086 L 317.02 687.181 L 318.669 687.281 L 320.318 687.388 L 321.967 687.5 L 323.615 687.618 L 325.264 687.743 L 326.913 687.875 L 328.562 688.014 L 330.211 688.162 L 331.86 688.317 L 333.508 688.481 L 335.157 688.654 L 336.806 688.837 L 338.455 689.03 L 340.104 689.234 L 341.753 689.449 L 343.401 689.676 L 345.05 689.915 L 346.699 690.168 L 348.348 690.434 L 349.997 690.715 L 351.645 691.012 L 353.294 691.324 L 354.943 691.654 L 356.592 692.002 L 358.241 692.368 L 359.89 692.754 L 361.538 693.161 L 363.187 693.59 L 364.836 694.042 L 366.485 694.517 L 368.134 695.019 L 369.783 695.546 L 371.431 696.101 L 373.08 696.686 L 374.729 697.3 L 376.378 697.947 L 378.027 698.627 L 379.676 699.342 L 381.324 700.093 L 382.973 700.882 L 384.622 701.711 L 386.271 702.581 L 387.92 703.494 L 389.569 704.452 L 391.217 705.457 L 392.866 706.51 L 394.515 707.613 L 396.164 708.769 L 397.813 709.978 L 399.462 711.244 L 401.11 712.567 L 402.759 713.951 L 404.408 715.395 L 406.057 716.904 L 407.706 718.477 L 409.355 720.117 L 411.003 721.826 L 412.652 723.605 L 414.301 725.456 L 415.95 727.379 L 417.599 729.378 L 419.247 731.451 L 420.896 733.602 L 422.545 735.829 L 424.194 738.134 L 425.843 740.518 L 427.492 742.981 L 429.14 745.522 L 430.789 748.141 L 432.438 750.838 L 434.087 753.612 L 435.736 756.461 L 437.385 759.385 L 439.033 762.382 L 440.682 765.449 L 442.331 768.584 L 443.98 771.785 L 445.629 775.049 L 447.278 778.371 L 448.926 781.75 L 450.575 785.18 L 452.224 788.657 L 453.873 792.177 L 455.522 795.736 L 457.171 799.328 L 458.819 802.948 L 460.468 806.591 L 462.117 810.252 L 463.766 813.924 L 465.415 817.603 L 467.064 821.282 L 468.712 824.957 L 470.361 828.621 L 472.01 832.268 L 473.659 835.894 L 475.308 839.493 L 476.957 843.06 L 478.605 846.589 L 480.254 850.077 L 481.903 853.518 L 483.552 856.908 L 485.201 860.244 L 486.849 863.521 L 488.498 866.737 L 490.147 869.887 L 491.796 872.97 L 493.445 875.983 L 495.094 878.924 L 496.742 881.791 L 498.391 884.582 L 500.04 887.296 L 501.689 889.933 L 503.338 892.492 L 504.987 894.973 L 506.635 897.374 L 508.284 899.698 L 509.933 901.943 L 511.582 904.111 L 513.231 906.202 L 514.88 908.217 L 516.528 910.158 L 518.177 912.025 L 519.826 913.82 L 521.475 915.545 L 523.124 917.201 L 524.773 918.789 L 526.421 920.312 L 528.07 921.771 L 529.719 923.168 L 531.368 924.505 L 533.017 925.784 L 534.666 927.006 L 536.314 928.174 L 537.963 929.289 L 539.612 930.354 L 541.261 931.369 L 542.91 932.338 L 544.559 933.261 L 546.207 934.141 L 547.856 934.979 L 549.505 935.777 L 551.154 936.536 L 552.803 937.259 L 554.452 937.947 L 556.1 938.601 L 557.749 939.223 L 559.398 939.814 L 561.047 940.376 L 562.696 940.91 L 564.344 941.417 L 565.993 941.898 L 567.642 942.355 L 569.291 942.789 L 570.94 943.201 L 572.589 943.592 L 574.237 943.963 L 575.886 944.314 L 577.535 944.648 L 579.184 944.965 L 580.833 945.265 L 582.482 945.549 L 584.13 945.819 L 585.779 946.075 L 587.428 946.317 L 589.077 946.547 L 590.726 946.764 L 592.375 946.971 L 594.023 947.166 L 595.672 947.351 L 597.321 947.526 L 598.97 947.693 L 600.619 947.85 L 602.268 947.999 L 603.916 948.14 L 605.565 948.274 L 607.214 948.4 L 608.863 948.52 L 610.512 948.634 L 612.161 948.741 L 613.809 948.843 L 615.458 948.939 L 617.107 949.03 L 618.756 949.117 L 620.405 949.198 L 622.054 949.276 L 623.702 949.349 L 625.351 949.418 L 627 949.484" fill="none" stroke="#000" stroke-width="6" stroke-linejoin="round"/>
<path d="M 134 650.2 L 134 701.4 M 125.4 650.2 L 142.6 650.2 M 125.4 701.4 L 142.6 701.4" stroke="#000" stroke-width="1.6" fill="none"/>
<path d="M 232.5 644.9 L 232.5 709.5 M 223.9 644.9 L 241.1 644.9 M 223.9 709.5 L 241.1 709.5" stroke="#000" stroke-width="1.6" fill="none"/>
<path d="M 331.4 669.5 L 331.4 701.4 M 322.8 669.5 L 340 669.5 M 322.8 701.4 L 340 701.4" stroke="#000" stroke-width="1.6" fill="none"/>
<path d="M 429.8 719 L 429.8 765.3 M 421.2 719 L 438.4 719 M 421.2 765.3 L 438.4 765.3" stroke="#000" stroke-width="1.6" fill="none"/>
<path d="M 528.8 871.1 L 528.8 943.5 M 520.2 871.1 L 537.4 871.1 M 520.2 943.5 L 537.4 943.5" stroke="#000" stroke-width="1.6" fill="none"/>
<circle cx="134" cy="675.6" r="8.5" fill="#000"/>
<circle cx="232.5" cy="676.9" r="8.5" fill="#000"/>
<circle cx="331.4" cy="685.2" r="8.5" fill="#000"/>
<circle cx="429.8" cy="742.1" r="8.5" fill="#000"/>
<circle cx="528.8" cy="906.9" r="8.5" fill="#000"/>
<circle cx="627" cy="949.7" r="8.5" fill="#000"/>
<circle cx="125.2" cy="691.2" r="8.5" fill="#f00" fill-opacity="0.3"/>
<circle cx="137.9" cy="691.1" r="8.5" fill="#f00" fill-opacity="0.3"/>
<circle cx="132.7" cy="704" r="8.5" fill="#f00" fill-opacity="0.3"/>
<circle cx="230.4" cy="689.7" r="8.5" fill="#f00" fill-opacity="0.3"/>
<circle cx="239.6" cy="689.4" r="8.5" fill="#f00" fill-opacity="0.3"/>
<circle cx="235.5" cy="719.4" r="8.5" fill="#f00" fill-opacity="0.3"/>
<circle cx="331.7" cy="694.4" r="8.5" fill="#f00" fill-opacity="0.3"/>
<circle cx="333" cy="695" r="8.5" fill="#f00" fill-opacity="0.3"/>
<circle cx="330.2" cy="700.9" r="8.5" fill="#f00" fill-opacity="0.3"/>
<circle cx="429.8" cy="734.9" r="8.5" fill="#f00" fill-opacity="0.3"/>
<circle cx="429.1" cy="774.1" r="8.5" fill="#f00" fill-opacity="0.3"/>
<circle cx="429.1" cy="774.1" r="8.5" fill="#f00" fill-opacity="0.3"/>
<circle cx="528.3" cy="935.1" r="8.5" fill="#f00" fill-opacity="0.3"/>
<circle cx="528.3" cy="949.7" r="8.5" fill="#f00" fill-opacity="0.3"/>
<circle cx="528.3" cy="949.7" r="8.5" fill="#f00" fill-opacity="0.3"/>
<circle cx="627" cy="949.7" r="8.5" fill="#f00" fill-opacity="0.3"/>
<circle cx="627" cy="949.7" r="8.5" fill="#f00" fill-opacity="0.3"/>
<circle cx="627" cy="949.7" r="8.5" fill="#f00" fill-opacity="0.3"/>
<text x="91.9" y="944.58" font-family="'Liberation Sans', sans-serif" font-size="40" fill="#262626" text-anchor="end">2</text>
<text x="91.9" y="874.34" font-family="'Liberation Sans', sans-serif" font-size="40" fill="#262626" text-anchor="end">3</text>
<text x="91.9" y="804.1" font-family="'Liberation Sans', sans-serif" font-size="40" fill="#262626" text-anchor="end">4</text>
<text x="91.9" y="733.86" font-family="'Liberation Sans', sans-serif" font-size="40" fill="#262626" text-anchor="end">5</text>
<text x="91.9" y="663.62" font-family="'Liberation Sans', sans-serif" font-size="40" fill="#262626" text-anchor="end">6</text>
<text x="173.803" y="1028.2" font-family="'Liberation Sans', sans-serif" font-size="40" fill="#262626"> 0</text><path transform="translate(173.803 1028.2) scale(0.04 -0.04)" d="M356 705L266 705C250 640 200 580 86 570L86 497L266 497L266 0L356 0Z" fill="#262626"/>
<rect x="220.555" y="997.95" width="9.5" height="2.7" fill="#262626"/>
<path transform="translate(231.595 1007.4) scale(0.032 -0.032)" d="M356 705L266 705C250 640 200 580 86 570L86 497L266 497L266 0L356 0Z" fill="#262626"/>
<text x="386.147" y="1028.2" font-family="'Liberation Sans', sans-serif" font-size="40" fill="#262626"> 0</text><path transform="translate(386.147 1028.2) scale(0.04 -0.04)" d="M356 705L266 705C250 640 200 580 86 570L86 497L266 497L266 0L356 0Z" fill="#262626"/>
<text x="431.64" y="1007.4" font-family="'Liberation Sans', sans-serif" font-size="32" fill="#262626">0</text>
<text x="592.892" y="1028.2" font-family="'Liberation Sans', sans-serif" font-size="40" fill="#262626"> 0</text><path transform="translate(592.892 1028.2) scale(0.04 -0.04)" d="M356 705L266 705C250 640 200 580 86 570L86 497L266 497L266 0L356 0Z" fill="#262626"/>
<text x="638.384" y="1007.4" font-family="'Liberation Sans', sans-serif" font-size="32" fill="#262626"> </text><path transform="translate(638.384 1007.4) scale(0.032 -0.032)" d="M356 705L266 705C250 640 200 580 86 570L86 497L266 497L266 0L356 0Z" fill="#262626"/>
<text x="266.375" y="1082.2" font-family="'Liberation Sans', sans-serif" font-size="45" fill="#262626">Log</text>
<text x="343.675" y="1101.7" font-family="'Liberation Sans', sans-serif" font-size="35.5" fill="#262626"> 0</text><path transform="translate(343.675 1101.7) scale(0.035 -0.035)" d="M356 705L266 705C250 640 200 580 86 570L86 497L266 497L266 0L356 0Z" fill="#262626"/>
<path d="M 400.025 1089.6 L 406.525 1064.7 M 403.425 1076.8 C 402.825 1080 405.025 1080.8 407.725 1080.7 C 410.325 1080.6 412.525 1078.8 413.725 1076.2 M 418.325 1064.7 L 414.925 1077.8 C 414.325 1080.2 415.325 1080.7 416.725 1080.6 C 418.325 1080.4 419.725 1078.3 420.525 1076" fill="none" stroke="#262626" stroke-width="2.9" stroke-linecap="round" stroke-linejoin="round"/>
<text x="424.975" y="1082.2" font-family="'Liberation Sans', sans-serif" font-size="45" fill="#262626" textLength="39.6" lengthAdjust="spacingAndGlyphs">M</text>
<g transform="translate(31.8 935) rotate(-90)"><text x="0" y="0" font-family="'Liberation Sans', sans-serif" font-size="45" fill="#262626">Log<tspan font-size="35.5" dx="2" dy="19.5"> 0</tspan><tspan dx="-2" dy="-19.5"> PFU/mL</tspan></text><path transform="translate(77.094 19.5) scale(0.035 -0.035)" d="M356 705L266 705C250 640 200 580 86 570L86 497L266 497L266 0L356 0Z" fill="#262626"/></g>
<text x="371.275" y="595.9" font-family="'Liberation Sans', sans-serif" font-weight="bold" font-size="44" fill="#000" text-anchor="middle" textLength="108.1" lengthAdjust="spacingAndGlyphs">ML-7</text>
<rect x="804.2" y="612.7" width="531.8" height="351.2" fill="none" stroke="#262626" stroke-width="2"/>
<path d="M 804.2 928.78 H 810.2 M 1336 928.78 H 1330 M 804.2 858.54 H 810.2 M 1336 858.54 H 1330 M 804.2 788.3 H 810.2 M 1336 788.3 H 1330 M 804.2 718.06 H 810.2 M 1336 718.06 H 1330 M 804.2 647.82 H 810.2 M 1336 647.82 H 1330 M 830.111 963.9 V 960.9 M 830.111 612.7 V 615.7 M 850.209 963.9 V 960.9 M 850.209 612.7 V 615.7 M 866.63 963.9 V 960.9 M 866.63 612.7 V 615.7 M 880.514 963.9 V 960.9 M 880.514 612.7 V 615.7 M 892.541 963.9 V 960.9 M 892.541 612.7 V 615.7 M 903.149 963.9 V 960.9 M 903.149 612.7 V 615.7 M 912.639 963.9 V 957.9 M 912.639 612.7 V 618.7 M 975.069 963.9 V 960.9 M 975.069 612.7 V 615.7 M 1011.588 963.9 V 960.9 M 1011.588 612.7 V 615.7 M 1037.499 963.9 V 960.9 M 1037.499 612.7 V 615.7 M 1057.597 963.9 V 960.9 M 1057.597 612.7 V 615.7 M 1074.018 963.9 V 960.9 M 1074.018 612.7 V 615.7 M 1087.902 963.9 V 960.9 M 1087.902 612.7 V 615.7 M 1099.929 963.9 V 960.9 M 1099.929 612.7 V 615.7 M 1110.538 963.9 V 960.9 M 1110.538 612.7 V 615.7 M 1120.027 963.9 V 957.9 M 1120.027 612.7 V 618.7 M 1182.457 963.9 V 960.9 M 1182.457 612.7 V 615.7 M 1218.977 963.9 V 960.9 M 1218.977 612.7 V 615.7 M 1244.888 963.9 V 960.9 M 1244.888 612.7 V 615.7 M 1264.986 963.9 V 960.9 M 1264.986 612.7 V 615.7 M 1281.407 963.9 V 960.9 M 1281.407 612.7 V 615.7 M 1295.291 963.9 V 960.9 M 1295.291 612.7 V 615.7 M 1307.318 963.9 V 960.9 M 1307.318 612.7 V 615.7 M 1317.926 963.9 V 960.9 M 1317.926 612.7 V 615.7 M 1327.416 963.9 V 957.9 M 1327.416 612.7 V 618.7" stroke="#262626" stroke-width="2" fill="none"/>
<line x1="804.2" y1="935.837" x2="1336" y2="935.837" stroke="#000" stroke-width="1.8" stroke-dasharray="3.2 8.133"/>
<path d="M 832.7 696.615 L 834.355 696.616 L 836.009 696.618 L 837.664 696.619 L 839.318 696.621 L 840.973 696.622 L 842.627 696.624 L 844.282 696.625 L 845.936 696.627 L 847.591 696.628 L 849.245 696.63 L 850.9 696.631 L 852.554 696.633 L 854.209 696.635 L 855.863 696.637 L 857.518 696.638 L 859.172 696.64 L 860.827 696.642 L 862.481 696.644 L 864.136 696.646 L 865.79 696.648 L 867.445 696.65 L 869.099 696.652 L 870.754 696.654 L 872.408 696.656 L 874.063 696.658 L 875.717 696.66 L 877.372 696.662 L 879.026 696.664 L 880.681 696.667 L 882.335 696.669 L 883.99 696.671 L 885.644 696.674 L 887.299 696.676 L 888.954 696.679 L 890.608 696.681 L 892.263 696.684 L 893.917 696.686 L 895.572 696.689 L 897.226 696.692 L 898.881 696.695 L 900.535 696.698 L 902.19 696.7 L 903.844 696.703 L 905.499 696.706 L 907.153 696.709 L 908.808 696.713 L 910.462 696.716 L 912.117 696.719 L 913.771 696.722 L 915.426 696.726 L 917.08 696.729 L 918.735 696.733 L 920.389 696.736 L 922.044 696.74 L 923.698 696.743 L 925.353 696.747 L 927.007 696.751 L 928.662 696.755 L 930.316 696.759 L 931.971 696.763 L 933.625 696.767 L 935.28 696.771 L 936.934 696.776 L 938.589 696.78 L 940.243 696.784 L 941.898 696.789 L 943.553 696.794 L 945.207 696.798 L 946.862 696.803 L 948.516 696.808 L 950.171 696.813 L 951.825 696.818 L 953.48 696.823 L 955.134 696.828 L 956.789 696.834 L 958.443 696.839 L 960.098 696.845 L 961.752 696.85 L 963.407 696.856 L 965.061 696.862 L 966.716 696.868 L 968.37 696.874 L 970.025 696.88 L 971.679 696.886 L 973.334 696.893 L 974.988 696.899 L 976.643 696.906 L 978.297 696.913 L 979.952 696.92 L 981.606 696.927 L 983.261 696.934 L 984.915 696.941 L 986.57 696.949 L 988.224 696.956 L 989.879 696.964 L 991.533 696.972 L 993.188 696.98 L 994.842 696.988 L 996.497 696.997 L 998.152 697.005 L 999.806 697.014 L 1001.461 697.023 L 1003.115 697.032 L 1004.77 697.041 L 1006.424 697.05 L 1008.079 697.06 L 1009.733 697.069 L 1011.388 697.079 L 1013.042 697.089 L 1014.697 697.099 L 1016.351 697.11 L 1018.006 697.12 L 1019.66 697.131 L 1021.315 697.142 L 1022.969 697.153 L 1024.624 697.165 L 1026.278 697.176 L 1027.933 697.188 L 1029.587 697.2 L 1031.242 697.212 L 1032.896 697.225 L 1034.551 697.238 L 1036.205 697.251 L 1037.86 697.264 L 1039.514 697.277 L 1041.169 697.291 L 1042.823 697.305 L 1044.478 697.319 L 1046.132 697.334 L 1047.787 697.349 L 1049.441 697.364 L 1051.096 697.379 L 1052.751 697.395 L 1054.405 697.411 L 1056.06 697.427 L 1057.714 697.443 L 1059.369 697.46 L 1061.023 697.477 L 1062.678 697.495 L 1064.332 697.512 L 1065.987 697.531 L 1067.641 697.549 L 1069.296 697.568 L 1070.95 697.587 L 1072.605 697.606 L 1074.259 697.626 L 1075.914 697.646 L 1077.568 697.667 L 1079.223 697.688 L 1080.877 697.709 L 1082.532 697.731 L 1084.186 697.753 L 1085.841 697.776 L 1087.495 697.799 L 1089.15 697.822 L 1090.804 697.846 L 1092.459 697.87 L 1094.113 697.895 L 1095.768 697.92 L 1097.422 697.946 L 1099.077 697.972 L 1100.731 697.999 L 1102.386 698.026 L 1104.04 698.054 L 1105.695 698.082 L 1107.349 698.11 L 1109.004 698.14 L 1110.659 698.169 L 1112.313 698.2 L 1113.968 698.23 L 1115.622 698.262 L 1117.277 698.294 L 1118.931 698.326 L 1120.586 698.36 L 1122.24 698.393 L 1123.895 698.428 L 1125.549 698.463 L 1127.204 698.499 L 1128.858 698.535 L 1130.513 698.572 L 1132.167 698.61 L 1133.822 698.648 L 1135.476 698.687 L 1137.131 698.727 L 1138.785 698.768 L 1140.44 698.809 L 1142.094 698.851 L 1143.749 698.894 L 1145.403 698.937 L 1147.058 698.982 L 1148.712 699.027 L 1150.367 699.073 L 1152.021 699.12 L 1153.676 699.168 L 1155.33 699.217 L 1156.985 699.266 L 1158.639 699.317 L 1160.294 699.368 L 1161.948 699.42 L 1163.603 699.474 L 1165.258 699.528 L 1166.912 699.583 L 1168.567 699.64 L 1170.221 699.697 L 1171.876 699.755 L 1173.53 699.815 L 1175.185 699.875 L 1176.839 699.937 L 1178.494 700 L 1180.148 700.063 L 1181.803 700.128 L 1183.457 700.195 L 1185.112 700.262 L 1186.766 700.331 L 1188.421 700.401 L 1190.075 700.472 L 1191.73 700.544 L 1193.384 700.618 L 1195.039 700.693 L 1196.693 700.77 L 1198.348 700.848 L 1200.002 700.927 L 1201.657 701.008 L 1203.311 701.09 L 1204.966 701.173 L 1206.62 701.259 L 1208.275 701.345 L 1209.929 701.434 L 1211.584 701.523 L 1213.238 701.615 L 1214.893 701.708 L 1216.547 701.803 L 1218.202 701.899 L 1219.857 701.997 L 1221.511 702.097 L 1223.166 702.199 L 1224.82 702.303 L 1226.475 702.408 L 1228.129 702.516 L 1229.784 702.625 L 1231.438 702.736 L 1233.093 702.849 L 1234.747 702.964 L 1236.402 703.082 L 1238.056 703.201 L 1239.711 703.322 L 1241.365 703.446 L 1243.02 703.572 L 1244.674 703.7 L 1246.329 703.83 L 1247.983 703.963 L 1249.638 704.098 L 1251.292 704.235 L 1252.947 704.375 L 1254.601 704.517 L 1256.256 704.662 L 1257.91 704.809 L 1259.565 704.959 L 1261.219 705.111 L 1262.874 705.266 L 1264.528 705.424 L 1266.183 705.584 L 1267.837 705.748 L 1269.492 705.914 L 1271.146 706.083 L 1272.801 706.255 L 1274.456 706.43 L 1276.11 706.608 L 1277.765 706.789 L 1279.419 706.973 L 1281.074 707.16 L 1282.728 707.351 L 1284.383 707.545 L 1286.037 707.742 L 1287.692 707.942 L 1289.346 708.146 L 1291.001 708.353 L 1292.655 708.564 L 1294.31 708.779 L 1295.964 708.997 L 1297.619 709.219 L 1299.273 709.444 L 1300.928 709.674 L 1302.582 709.907 L 1304.237 710.144 L 1305.891 710.385 L 1307.546 710.63 L 1309.2 710.879 L 1310.855 711.132 L 1312.509 711.39 L 1314.164 711.652 L 1315.818 711.918 L 1317.473 712.188 L 1319.127 712.463 L 1320.782 712.743 L 1322.436 713.027 L 1324.091 713.315 L 1325.745 713.609 L 1327.4 713.907" fill="none" stroke="#000" stroke-width="6" stroke-linejoin="round"/>
<path d="M 832.7 696.3 L 832.7 706.5 M 824.1 696.3 L 841.3 696.3 M 824.1 706.5 L 841.3 706.5" stroke="#000" stroke-width="1.6" fill="none"/>
<path d="M 931.7 655.3 L 931.7 709.2 M 923.1 655.3 L 940.3 655.3 M 923.1 709.2 L 940.3 709.2" stroke="#000" stroke-width="1.6" fill="none"/>
<path d="M 1030.7 678.4 L 1030.7 706.9 M 1022.1 678.4 L 1039.3 678.4 M 1022.1 706.9 L 1039.3 706.9" stroke="#000" stroke-width="1.6" fill="none"/>
<path d="M 1129.4 698 L 1129.4 711.3 M 1120.8 698 L 1138 698 M 1120.8 711.3 L 1138 711.3" stroke="#000" stroke-width="1.6" fill="none"/>
<path d="M 1228.3 658.5 L 1228.3 719.9 M 1219.7 658.5 L 1236.9 658.5 M 1219.7 719.9 L 1236.9 719.9" stroke="#000" stroke-width="1.6" fill="none"/>
<path d="M 1327.4 667.2 L 1327.4 738.5 M 1318.8 667.2 L 1336 667.2 M 1318.8 738.5 L 1336 738.5" stroke="#000" stroke-width="1.6" fill="none"/>
<circle cx="832.7" cy="702" r="8.5" fill="#000"/>
<circle cx="931.7" cy="682.2" r="8.5" fill="#000"/>
<circle cx="1030.7" cy="692.2" r="8.5" fill="#000"/>
<circle cx="1129.4" cy="705.4" r="8.5" fill="#000"/>
<circle cx="1228.3" cy="689" r="8.5" fill="#000"/>
<circle cx="1327.4" cy="703" r="8.5" fill="#000"/>
<circle cx="829.4" cy="695.5" r="8.5" fill="#f00" fill-opacity="0.3"/>
<circle cx="838.2" cy="695.5" r="8.5" fill="#f00" fill-opacity="0.3"/>
<circle cx="824.1" cy="704.1" r="8.5" fill="#f00" fill-opacity="0.3"/>
<circle cx="928.5" cy="694.6" r="8.5" fill="#f00" fill-opacity="0.3"/>
<circle cx="930.9" cy="694.2" r="8.5" fill="#f00" fill-opacity="0.3"/>
<circle cx="936.3" cy="714.3" r="8.5" fill="#f00" fill-opacity="0.3"/>
<circle cx="1031.4" cy="682.5" r="8.5" fill="#f00" fill-opacity="0.3"/>
<circle cx="1031.2" cy="691" r="8.5" fill="#f00" fill-opacity="0.3"/>
<circle cx="1030.9" cy="692" r="8.5" fill="#f00" fill-opacity="0.3"/>
<circle cx="1129.4" cy="698.8" r="8.5" fill="#f00" fill-opacity="0.3"/>
<circle cx="1129.4" cy="698.8" r="8.5" fill="#f00" fill-opacity="0.3"/>
<circle cx="1129.4" cy="713.1" r="8.5" fill="#f00" fill-opacity="0.3"/>
<circle cx="1228.3" cy="708.6" r="8.5" fill="#f00" fill-opacity="0.3"/>
<circle cx="1228.3" cy="724.9" r="8.5" fill="#f00" fill-opacity="0.3"/>
<circle cx="1228.3" cy="724.9" r="8.5" fill="#f00" fill-opacity="0.3"/>
<circle cx="1327.4" cy="681.4" r="8.5" fill="#f00" fill-opacity="0.3"/>
<circle cx="1327.4" cy="681.4" r="8.5" fill="#f00" fill-opacity="0.3"/>
<circle cx="1327.4" cy="752.5" r="8.5" fill="#f00" fill-opacity="0.3"/>
<text x="790.5" y="944.58" font-family="'Liberation Sans', sans-serif" font-size="40" fill="#262626" text-anchor="end">2</text>
<text x="790.5" y="874.34" font-family="'Liberation Sans', sans-serif" font-size="40" fill="#262626" text-anchor="end">3</text>
<text x="790.5" y="804.1" font-family="'Liberation Sans', sans-serif" font-size="40" fill="#262626" text-anchor="end">4</text>
<text x="790.5" y="733.86" font-family="'Liberation Sans', sans-serif" font-size="40" fill="#262626" text-anchor="end">5</text>
<text x="790.5" y="663.62" font-family="'Liberation Sans', sans-serif" font-size="40" fill="#262626" text-anchor="end">6</text>
<text x="873.439" y="1028.2" font-family="'Liberation Sans', sans-serif" font-size="40" fill="#262626"> 0</text><path transform="translate(873.439 1028.2) scale(0.04 -0.04)" d="M356 705L266 705C250 640 200 580 86 570L86 497L266 497L266 0L356 0Z" fill="#262626"/>
<rect x="920.191" y="997.95" width="9.5" height="2.7" fill="#262626"/>
<path transform="translate(931.231 1007.4) scale(0.032 -0.032)" d="M356 705L266 705C250 640 200 580 86 570L86 497L266 497L266 0L356 0Z" fill="#262626"/>
<text x="1086.427" y="1028.2" font-family="'Liberation Sans', sans-serif" font-size="40" fill="#262626"> 0</text><path transform="translate(1086.427 1028.2) scale(0.04 -0.04)" d="M356 705L266 705C250 640 200 580 86 570L86 497L266 497L266 0L356 0Z" fill="#262626"/>
<text x="1131.919" y="1007.4" font-family="'Liberation Sans', sans-serif" font-size="32" fill="#262626">0</text>
<text x="1293.816" y="1028.2" font-family="'Liberation Sans', sans-serif" font-size="40" fill="#262626"> 0</text><path transform="translate(1293.816 1028.2) scale(0.04 -0.04)" d="M356 705L266 705C250 640 200 580 86 570L86 497L266 497L266 0L356 0Z" fill="#262626"/>
<text x="1339.308" y="1007.4" font-family="'Liberation Sans', sans-serif" font-size="32" fill="#262626"> </text><path transform="translate(1339.308 1007.4) scale(0.032 -0.032)" d="M356 705L266 705C250 640 200 580 86 570L86 497L266 497L266 0L356 0Z" fill="#262626"/>
<text x="964" y="1082.2" font-family="'Liberation Sans', sans-serif" font-size="45" fill="#262626">Log</text>
<text x="1041.3" y="1101.7" font-family="'Liberation Sans', sans-serif" font-size="35.5" fill="#262626"> 0</text><path transform="translate(1041.3 1101.7) scale(0.035 -0.035)" d="M356 705L266 705C250 640 200 580 86 570L86 497L266 497L266 0L356 0Z" fill="#262626"/>
<path d="M 1097.65 1089.6 L 1104.15 1064.7 M 1101.05 1076.8 C 1100.45 1080 1102.65 1080.8 1105.35 1080.7 C 1107.95 1080.6 1110.15 1078.8 1111.35 1076.2 M 1115.95 1064.7 L 1112.55 1077.8 C 1111.95 1080.2 1112.95 1080.7 1114.35 1080.6 C 1115.95 1080.4 1117.35 1078.3 1118.15 1076" fill="none" stroke="#262626" stroke-width="2.9" stroke-linecap="round" stroke-linejoin="round"/>
<text x="1122.6" y="1082.2" font-family="'Liberation Sans', sans-serif" font-size="45" fill="#262626" textLength="39.6" lengthAdjust="spacingAndGlyphs">M</text>
<g transform="translate(731.8 935) rotate(-90)"><text x="0" y="0" font-family="'Liberation Sans', sans-serif" font-size="45" fill="#262626">Log<tspan font-size="35.5" dx="2" dy="19.5"> 0</tspan><tspan dx="-2" dy="-19.5"> PFU/mL</tspan></text><path transform="translate(77.094 19.5) scale(0.035 -0.035)" d="M356 705L266 705C250 640 200 580 86 570L86 497L266 497L266 0L356 0Z" fill="#262626"/></g>
<text x="1070.1" y="595.9" font-family="'Liberation Sans', sans-serif" font-weight="bold" font-size="44" fill="#000" text-anchor="middle">MLCK Inhibitor Peptide  8</text><path transform="translate(1294.94 595.9) scale(0.044 -0.044)" d="M378 710L270 710C255 645 200 568 69 559L69 455L239 455L239 0L378 0Z" fill="#000"/>
<text x="255.38" y="257.7" font-family="'Liberation Sans', sans-serif" font-size="29.5" fill="#000">IC</text>
<text x="284.05" y="271.3" font-family="'Liberation Sans', sans-serif" font-size="23" fill="#000">50</text>
<text x="309.66" y="257.7" font-family="'Liberation Sans', sans-serif" font-size="29.5" fill="#000" textLength="56.2" lengthAdjust="spacingAndGlyphs">= .4</text><path transform="translate(326.285 257.7) scale(0.028 -0.029)" d="M356 705L266 705C250 640 200 580 86 570L86 497L266 497L266 0L356 0Z" fill="#000"/>
<path d="M 368.072 263.277 L 372.72 245.474 M 370.503 254.125 C 370.075 256.413 371.647 256.985 373.578 256.913 C 375.437 256.842 377.01 255.555 377.868 253.696 M 381.157 245.474 L 378.726 254.84 C 378.297 256.556 379.012 256.913 380.013 256.842 C 381.157 256.699 382.158 255.197 382.73 253.553" fill="none" stroke="#000" stroke-width="2.073" stroke-linecap="round" stroke-linejoin="round"/>
<text x="384.88" y="257.7" font-family="'Liberation Sans', sans-serif" font-size="29.5" fill="#000" textLength="26.5" lengthAdjust="spacingAndGlyphs">M</text>
<path d="M 422.1 249.75 L 444.4 249.75" stroke="#000" stroke-width="1.6" fill="none"/><path d="M 440.1 242.65 Q 441.3 247.55 445.2 249.55 Q 441.3 251.95 440.1 256.85" stroke="#000" stroke-width="1.7" fill="none" stroke-linecap="round" stroke-linejoin="round"/>
<text x="887.18" y="260.4" font-family="'Liberation Sans', sans-serif" font-size="29.5" fill="#000">IC</text>
<text x="915.85" y="274" font-family="'Liberation Sans', sans-serif" font-size="23" fill="#000">50</text>
<text x="941.46" y="260.4" font-family="'Liberation Sans', sans-serif" font-size="29.5" fill="#000" textLength="71.8" lengthAdjust="spacingAndGlyphs">=0.79</text>
<path d="M 1017.372 265.977 L 1022.02 248.173 M 1019.803 256.825 C 1019.374 259.113 1020.947 259.685 1022.878 259.613 C 1024.737 259.542 1026.31 258.255 1027.168 256.396 M 1030.457 248.173 L 1028.026 257.54 C 1027.597 259.256 1028.312 259.613 1029.313 259.542 C 1030.457 259.399 1031.458 257.897 1032.03 256.253" fill="none" stroke="#000" stroke-width="2.073" stroke-linecap="round" stroke-linejoin="round"/>
<text x="1034.18" y="260.4" font-family="'Liberation Sans', sans-serif" font-size="29.5" fill="#000" textLength="26.5" lengthAdjust="spacingAndGlyphs">M</text>
<path d="M 1071.1 252.6 L 1093.6 252.6" stroke="#000" stroke-width="1.6" fill="none"/><path d="M 1089.3 245.5 Q 1090.5 250.4 1094.4 252.4 Q 1090.5 254.8 1089.3 259.7" stroke="#000" stroke-width="1.7" fill="none" stroke-linecap="round" stroke-linejoin="round"/>
<text x="271.88" y="823.9" font-family="'Liberation Sans', sans-serif" font-size="29.5" fill="#000">IC</text>
<text x="300.55" y="837.5" font-family="'Liberation Sans', sans-serif" font-size="23" fill="#000">50</text>
<text x="326.16" y="823.9" font-family="'Liberation Sans', sans-serif" font-size="29.5" fill="#000" textLength="57.2" lengthAdjust="spacingAndGlyphs">= .7</text><path transform="translate(343.081 823.9) scale(0.029 -0.029)" d="M356 705L266 705C250 640 200 580 86 570L86 497L266 497L266 0L356 0Z" fill="#000"/>
<path d="M 385.072 829.477 L 389.72 811.673 M 387.503 820.325 C 387.075 822.613 388.647 823.185 390.578 823.113 C 392.437 823.042 394.01 821.755 394.868 819.896 M 398.157 811.673 L 395.726 821.04 C 395.297 822.756 396.012 823.113 397.013 823.042 C 398.157 822.899 399.158 821.397 399.73 819.753" fill="none" stroke="#000" stroke-width="2.073" stroke-linecap="round" stroke-linejoin="round"/>
<text x="401.88" y="823.9" font-family="'Liberation Sans', sans-serif" font-size="29.5" fill="#000" textLength="26.5" lengthAdjust="spacingAndGlyphs">M</text>
<path d="M 439 816.7 L 460.9 816.7" stroke="#000" stroke-width="1.6" fill="none"/><path d="M 456.6 809.6 Q 457.8 814.5 461.7 816.5 Q 457.8 818.9 456.6 823.8" stroke="#000" stroke-width="1.7" fill="none" stroke-linecap="round" stroke-linejoin="round"/>
</svg></body></html>
